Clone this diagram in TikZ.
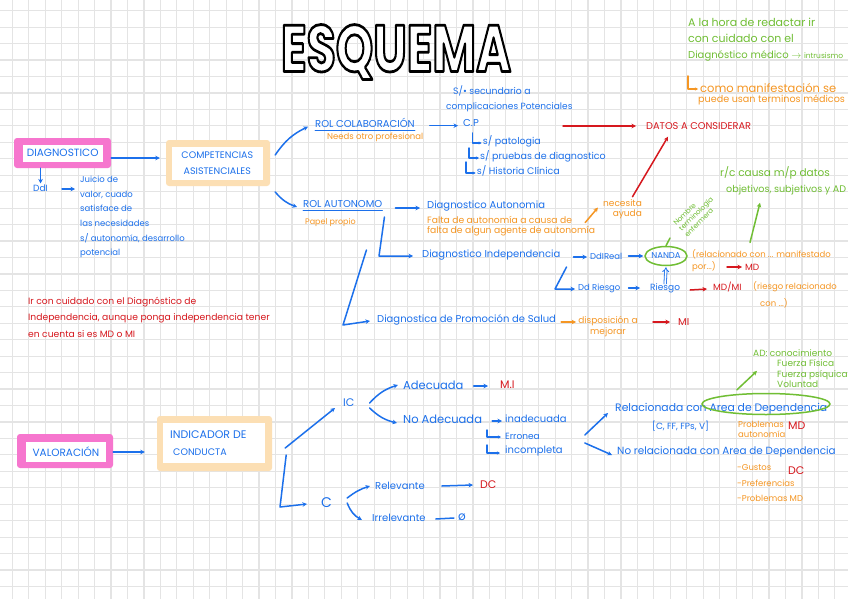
\documentclass[tikz,border=0pt]{standalone}
\usepackage{fontspec}
\setmainfont{Poppins}
\usetikzlibrary{arrows.meta,shapes.geometric,calc}
\definecolor{cblue}{RGB}{28,112,235}
\definecolor{corange}{RGB}{245,150,35}
\definecolor{cred}{RGB}{214,24,30}
\definecolor{cgreen}{RGB}{112,190,52}
\definecolor{cpink}{RGB}{246,118,206}
\definecolor{cpeach}{RGB}{252,223,180}
\definecolor{cgrid}{RGB}{228,228,228}
\newcommand\fs[2]{\fontsize{#1}{#2}\selectfont}
\newcommand\outlinetext[1]{\special{pdf:literal direct 2 Tr 2.8 w 1 j 1 g 0 G}#1\special{pdf:literal direct 0 Tr 0 g 0 G 0.4 w}}
\begin{document}
\begin{tikzpicture}[x=1pt,y=-1pt,
  t/.style={inner sep=0pt, anchor=west, align=left},
  bt/.style={t, text=cblue}, ot/.style={t, text=corange},
  rt/.style={t, text=cred}, gt/.style={t, text=cgreen},
  ln/.style={line width=1.5pt, line cap=round, line join=round},
  tip/.style={-{Stealth[length=4.5pt,width=4.5pt]}},
  smalltip/.style={-{Stealth[length=3pt,width=3pt]}},
  bl/.style={ln, draw=cblue}, ba/.style={bl, tip},
  ol/.style={ln, draw=corange}, oa/.style={ol, tip},
  rl/.style={ln, draw=cred}, ra/.style={rl, tip},
  gl/.style={ln, draw=cgreen}, ga/.style={gl, tip},
  outerpink/.style={fill=cpink, rounded corners=3pt, inner sep=0pt},
  outerpeach/.style={fill=cpeach, rounded corners=3pt, inner sep=0pt},
  innerw/.style={fill=white, inner sep=0pt},
  gridline/.style={draw=cgrid, line width=1.2pt},
  titletext/.style={inner sep=0pt, font={\fs{66}{66}\bfseries}}
]
\useasboundingbox (0,0) rectangle (848,599);
\fill[white] (0,0) rectangle (848,599);
\foreach \k in {0,...,50} \draw[gridline] ({12.3+16.45*\k},0) -- ({12.3+16.45*\k},599);
\foreach \k in {0,...,35} \draw[gridline] (0,{10.7+16.45*\k}) -- (848,{10.7+16.45*\k});

% title
\node[titletext] (title) at (396,52) {\scalebox{0.72}[1]{\outlinetext{ESQUEMA}}};

% DIAGNOSTICO box
\node[outerpink, minimum width=97pt, minimum height=30pt] (diagbox) at (62.5,153) {};
\node[innerw, minimum width=80pt, minimum height=17pt] (diagin) at (62.7,153.3) {};
\node[inner sep=0pt, text=cblue, font={\fs{10.5}{12}}] (diag) at (diagin) {DIAGNOSTICO};

\node[outerpeach, minimum width=104pt, minimum height=46pt] (compbox) at (218,163) {};
\node[innerw, minimum width=91pt, minimum height=33pt] (compin) at (217.3,163.3) {};
\node[inner sep=0pt, text=cblue, align=center, font={\fs{9.5}{16.5}}] (comp) at (compin) {COMPETENCIAS\\ASISTENCIALES};
\draw[ba] ([yshift=-5pt]diagbox.east) -- ([xshift=-6pt,yshift=5pt]compbox.west);

\node[bt, font={\fs{9}{11}}] (ddi) at (33,188) {DdI};
\draw[ba] (diagbox.south -| ddi.north) -- ([yshift=1pt]ddi.north);
\node[bt, anchor=north west, font={\fs{8.5}{14.6}}] (juicio) at (80,176) {Juicio de\\valor, cuado\\satisface de\\las necesidades\\s/ autonomía, desarrollo\\potencial};
\draw[ba] ([shift={(14pt,-1pt)}]ddi.east) -- ([shift={(-5pt,-1pt)}]ddi.east -| juicio.west);

% ROL nodes
\node[bt, font={\fs{10}{12}}] (rolcol) at (315,122.7) {ROL COLABORACIÓN};
\draw[bl, line width=1pt] ([yshift=-2.5pt]rolcol.south west) -- ([yshift=-2.5pt]rolcol.south east);
\node[ot, font={\fs{8.5}{10}}] (needs) at (327,137) {Needs otro profesional};
\node[bt, font={\fs{10}{12}}] (rolaut) at (303,204) {ROL AUTONOMO};
\draw[bl, line width=1pt] ([yshift=-2.5pt]rolaut.south west) -- ([yshift=-2.5pt]rolaut.south east);
\node[ot, font={\fs{8}{10}}] (papel) at (305,222) {Papel propio};
\draw[ba] ([shift={(5pt,8pt)}]compbox.east) to[bend left=15] ([shift={(-7pt,-4pt)}]rolcol.west);
\draw[ba] ([shift={(5pt,-29pt)}]compbox.east) to[bend right=15] ([shift={(-6pt,-3pt)}]rolaut.west);

% C.P
\node[bt, font={\fs{10}{12}}] (cp) at (463,122.7) {C.P};
\draw[ba] ([shift={(15pt,-3pt)}]rolcol.east) -- ([shift={(-5pt,-3pt)}]cp.west);
\node[bt, font={\fs{9.3}{11}}] (sec1) at (453,91) {S/• secundario a};
\node[bt, font={\fs{9}{11}}] (sec2) at (446,107) {complicaciones Potenciales};
\node[bt, font={\fs{9.5}{11}}] (pat) at (482.7,141) {s/ patologia};
\node[bt, font={\fs{9.5}{11}}] (prue) at (480,156) {s/ pruebas de diagnostico};
\node[bt, font={\fs{9.5}{11}}] (hist) at (476.7,171) {s/ Historia Clínica};
\draw[bl, smalltip] ([shift={(-10pt,8pt)}]pat.west) |- ([shift={(-1pt,-2pt)}]pat.west);
\draw[bl, smalltip] ([shift={(-11pt,8pt)}]prue.west) |- ([shift={(-1pt,-2pt)}]prue.west);
\draw[bl, smalltip] ([shift={(-10.7pt,9pt)}]hist.west) |- ([shift={(-1pt,-2pt)}]hist.west);

% datos
\node[rt, font={\fs{9.8}{11}}] (datos) at (646,126) {DATOS A CONSIDERAR};
\coordinate (rs) at (563,126);
\draw[ra] (rs) -- ([xshift=-10pt]datos.west);

% autonomia
\node[bt, font={\fs{10}{12}}] (dauto) at (427,206) {Diagnostico Autonomia};
\draw[ba] ([shift={(13pt,-4pt)}]rolaut.east) -- ([shift={(-7pt,-2pt)}]dauto.west);
\node[ot, anchor=north west, font={\fs{9.2}{10}}] (falta) at (427,216.5) {Falta de autonomía a causa de\\falta de algun agente de autonomía};
\node[ot, anchor=center, align=right, font={\fs{9}{10}}] (necesita) at (622.5,209.5) {necesita\\ayuda};
\draw[oa] ([shift={(-10pt,-6pt)}]falta.north east) -- ([shift={(-5pt,2pt)}]necesita.west);
\draw[ra] ([shift={(10pt,3pt)}]necesita.north) -- ([shift={(22pt,-7pt)}]datos.south west);

% independencia
\node[bt, font={\fs{10}{12}}] (dind) at (422,255) {Diagnostico Independencia};
\draw[ba] ([shift={(2pt,-13pt)}]rolaut.east) -- ([shift={(-43pt,-1pt)}]dind.west) -- ([shift={(-9pt,-1pt)}]dind.west);
\node[bt, font={\fs{10}{12}}] (promo) at (377,320) {Diagnostica de Promoción de Salud};
\draw[ba] ([shift={(-16pt,-46pt)}]rolaut.east) -- ([shift={(-34pt,-5pt)}]promo.west) -- ([shift={(-7pt,-1pt)}]promo.west);

\node[bt, font={\fs{8.5}{10}}] (dreal) at (590,256) {DdIReal};
\draw[ba] ([shift={(13pt,-2pt)}]dind.east) -- ([shift={(-3pt,-1pt)}]dreal.west);
\node[draw=cgreen, line width=1.5pt, ellipse, minimum width=42pt, minimum height=19pt, inner sep=0pt, text=cblue, font={\fs{8.5}{10}}] (nanda) at (666,256) {NANDA};
\draw[ba] ([xshift=6pt]dreal.east) -- ([xshift=-1pt]nanda.west);
\node[bt, font={\fs{8.5}{10}}] (driesgo) at (578,288) {Dd Riesgo};
\draw[ba] ([shift={(6pt,-12pt)}]dind.east) -- ([shift={(-23pt,-1pt)}]driesgo.west) -- ([shift={(-3pt,-1pt)}]driesgo.west);
\node[bt, font={\fs{9}{10}}] (riesgo) at (650,288) {Riesgo};
\draw[ba] ([xshift=8pt]driesgo.east) -- ([xshift=-10pt]riesgo.west);
\draw[draw=cblue, line width=0.8pt, double distance=1.6pt, -{Implies}] ([yshift=-1pt]riesgo.north) -- ([yshift=-1pt]nanda.south);
\node[rt, font={\fs{9}{10}}] (mdmi) at (713,287) {MD/MI};
\draw[ra] ([shift={(10pt,-2pt)}]riesgo.east) -- ([shift={(-6pt,-2pt)}]mdmi.west);
\node[ot, anchor=north west, font={\fs{8.5}{17}}] (riesgorel) at (753,281) {(riesgo relacionado\\\hspace*{7pt}con ...)};
\node[ot, anchor=north west, font={\fs{8.5}{12}}] (relac) at (692,249.5) {(relacionado con ... manifestado\\por...)};
\node[rt, font={\fs{9}{10}}] (mdrel) at (745,267) {MD};
\draw[ra] ([xshift=-18pt]mdrel.west) -- ([xshift=-3pt]mdrel.west);
\node[gt, anchor=center, align=left, rotate=45, font={\fs{7}{8}}] (nombre) at (696,214) {Nombre\\terminología\\enfermera};
\coordinate (stalk) at (670,238);
\draw[gl] (nanda.north) -- (stalk);
\node[gt, anchor=north west, font={\fs{10.5}{16}}] (rc) at (720,166) {r/c causa m/p datos\\\hspace*{6pt}{\fs{9.6}{16}objetivos, subjetivos y AD}};
\draw[ga] ([shift={(58pt,7pt)}]relac.north west) -- ([shift={(40pt,-8pt)}]rc.south west);

% promocion
\node[ot, anchor=center, align=center, font={\fs{9}{11}}] (dispos) at (608,327) {disposición a\\mejorar};
\draw[oa] ([shift={(5pt,-2pt)}]promo.east) -- ([shift={(-2pt,5pt)}]dispos.west);
\node[rt, font={\fs{10}{12}}] (mi1) at (678,322) {MI};
\draw[ra] ([xshift=-25pt]mi1.west) -- ([xshift=-8pt]mi1.west);

% red note
\node[rt, anchor=north west, font={\fs{9.2}{16.5}}] (ircon) at (28,297) {Ir con cuidado con el Diagnóstico de\\Independencia, aunque ponga independencia tener\\en cuenta si es MD o MI};

% green note top
\node[gt, anchor=north west, font={\fs{11}{16}}] (nota) at (688,18) {A la hora de redactar ir\\con cuidado con el\\{\fs{10}{16}Diagnóstico médico $\rightarrow$ {\fs{7.5}{16}intrusismo}}};
\node[ot, font={\fs{11.5}{12}}] (como) at (700,88) {como manifestación se};
\node[ot, font={\fs{9.6}{12}}] (puede) at (698,99.5) {puede usan terminos médicos};
\draw[ol, smalltip] ([shift={(-12pt,12pt)}]como.west) |- ([shift={(-2pt,-1pt)}]como.west);

% VALORACION
\node[outerpink, minimum width=96pt, minimum height=34pt] (valbox) at (65,451) {};
\node[innerw, minimum width=80pt, minimum height=20pt] (valin) at (66,452) {};
\node[inner sep=0pt, text=cblue, font={\fs{10.5}{12}}] (val) at (valin) {VALORACIÓN};
\node[outerpeach, minimum width=115pt, minimum height=55pt] (indbox) at (214.5,443.5) {};
\node[innerw, minimum width=102pt, minimum height=40pt] (indin) at (214,443) {};
\node[bt, font={\fs{11}{17}}] (ind) at (170,443.5) {INDICADOR DE\\\hspace*{3pt}{\fs{9.5}{17}CONDUCTA}};
\draw[ba] ([yshift=-1pt]valbox.east) -- ([shift={(-12pt,-8.5pt)}]indbox.west);

\node[bt, font={\fs{11}{12}}] (ic) at (343,403) {IC};
\draw[ba] ([shift={(13pt,-4.5pt)}]indbox.east) -- ([shift={(-8pt,-5pt)}]ic.west);
\node[bt, font={\fs{14}{14}}] (cc) at (321,503) {C};
\draw[ba] ([shift={(14pt,-11.5pt)}]indbox.east) -- ([shift={(-41pt,-4pt)}]cc.west) -- ([shift={(-14pt,-1pt)}]cc.west);

\node[bt, font={\fs{11.5}{12}}] (adec) at (403,385) {Adecuada};
\node[bt, font={\fs{11.5}{12}}] (noadec) at (403,419) {No Adecuada};
\draw[ba] ([xshift=15pt]ic.east) to[bend left=15] ([xshift=-5pt]adec.west);
\draw[ba] ([shift={(15pt,-5pt)}]ic.east) to[bend right=15] ([shift={(-6pt,-4pt)}]noadec.west);
\node[rt, font={\fs{11}{12}}] (mi2) at (500,385) {M.I};
\draw[ba] ([shift={(10pt,-1pt)}]adec.east) -- ([shift={(-12pt,-1pt)}]mi2.west);
\node[bt, font={\fs{10}{12}}] (inad) at (505,419) {inadecuada};
\draw[ba] ([shift={(10pt,-2pt)}]noadec.east) -- ([shift={(-3pt,-2pt)}]inad.west);
\node[bt, font={\fs{9}{11}}] (err) at (505,436) {Erronea};
\draw[bl, smalltip] ([shift={(-18pt,6pt)}]err.west) |- ([shift={(-4pt,-1pt)}]err.west);
\node[bt, font={\fs{10}{12}}] (inc) at (505,451) {incompleta};
\draw[bl, smalltip] ([shift={(-18pt,6pt)}]inc.west) |- ([shift={(-5pt,-2pt)}]inc.west);

\node[bt, font={\fs{10}{12}}] (relev) at (375,486) {Relevante};
\draw[ba] ([shift={(15pt,5pt)}]cc.east) to[bend left=10] ([xshift=-5pt]relev.west);
\node[bt, font={\fs{10}{12}}] (irrel) at (372,518) {Irrelevante};
\draw[ba] ([shift={(15pt,0pt)}]cc.east) to[bend right=20] ([shift={(-10pt,-2pt)}]irrel.west);
\node[rt, font={\fs{11}{12}}] (dc1) at (480,485) {DC};
\draw[ba] ([xshift=17pt]relev.east) -- ([xshift=-7pt]dc1.west);
\node[inner sep=0pt, text=cblue, font={\fs{12}{12}}] (empty) at (462,517) {ø};
\draw[bl] ([shift={(10pt,-1pt)}]irrel.east) -- ([shift={(-4pt,-1pt)}]empty.west);

% right side
\node[bt, font={\fs{10.8}{12}}] (rel) at (615,409) {Relacionada con Area de Dependencia};
\node[bt, font={\fs{10.4}{12}}] (norel) at (617,452) {No relacionada con Area de Dependencia};
\draw[ba] ([shift={(22pt,16pt)}]inc.east) -- ([shift={(-7pt,-4pt)}]rel.west);
\draw[ba] ([shift={(22pt,8pt)}]inc.east) -- ([shift={(-5pt,-3pt)}]norel.west);
\node[draw=cgreen, line width=1.5pt, ellipse, minimum width=128pt, minimum height=21pt, inner sep=0pt] (areaell) at (766,404) {};
\node[bt, font={\fs{9}{11}}] (cff) at (652,426) {[C, FF, FPs, V]};
\node[ot, anchor=north west, font={\fs{8.5}{10}}] (probl) at (738,421) {Problemas\\autonomía};
\node[rt, font={\fs{11}{12}}] (md3) at (788,426) {MD};
\node[gt, anchor=north west, font={\fs{9}{10.5}}] (ad) at (753,349) {AD: conocimiento\\\hspace*{24pt}Fuerza Física\\\hspace*{24pt}Fuerza psíquica\\\hspace*{24pt}Voluntad};
\draw[ga] ([shift={(-29pt,3pt)}]areaell.north) -- ([shift={(4pt,-2.5pt)}]ad.west);

\node[ot, font={\fs{8.5}{10}}] (gustos) at (737,468) {-Gustos};
\node[ot, font={\fs{8.5}{10}}] (pref) at (737,483) {-Preferencias};
\node[ot, font={\fs{8.5}{10}}] (prob2) at (737,498) {-Problemas MD};
\node[rt, font={\fs{11}{12}}] (dc2) at (788,471) {DC};
\end{tikzpicture}
\end{document}
